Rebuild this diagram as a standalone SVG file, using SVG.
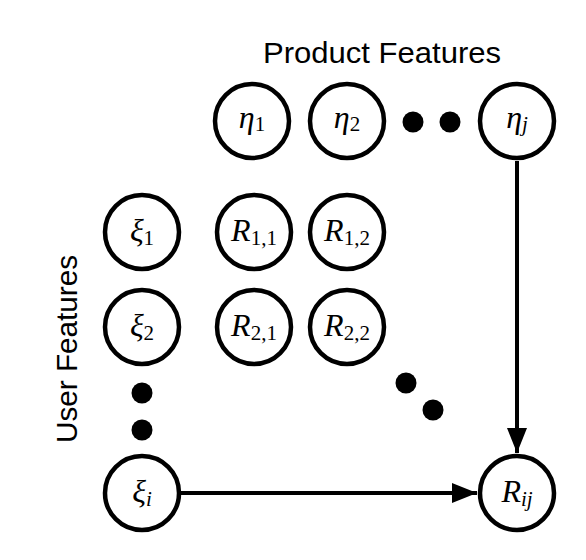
<svg xmlns="http://www.w3.org/2000/svg" width="586" height="560" viewBox="0 0 586 560">
<style>
.node circle{fill:#fff;stroke:#000;stroke-width:4.5}
.m{font-family:"Liberation Serif","Times New Roman",serif;font-size:32px;fill:#000}
.i{font-style:italic}
.s{font-size:21px;font-style:normal}
.si{font-size:21px;font-style:italic}
.lbl{font-family:"Liberation Sans",Arial,sans-serif;font-size:29px;fill:#000}
.dot{fill:#000}
.edge{stroke:#000;stroke-width:4;fill:none}
</style>
<defs>
<marker id="ah" markerUnits="userSpaceOnUse" markerWidth="26" markerHeight="22" refX="25" refY="10" orient="auto">
<path d="M0,0 L25,10 L0,20 Z" fill="#000"/>
</marker>
</defs>
<rect width="586" height="560" fill="#fff"/>
<text class="lbl" x="382" y="63" text-anchor="middle" textLength="238" lengthAdjust="spacingAndGlyphs">Product Features</text>
<text class="lbl" transform="translate(77,349) rotate(-90)" x="0" y="0" text-anchor="middle" textLength="188" lengthAdjust="spacingAndGlyphs">User Features</text>
<g id="connectors">
<line class="edge" x1="181" y1="493" x2="477" y2="493" marker-end="url(#ah)"/>
<line class="edge" x1="517" y1="161" x2="517" y2="453" marker-end="url(#ah)"/>
</g>
<g id="eta1" class="node"><circle cx="252" cy="121" r="37"/><text class="m" x="252" y="128" text-anchor="middle"><tspan class="i">η</tspan><tspan class="s" dy="3">1</tspan></text></g>
<g id="eta2" class="node"><circle cx="347" cy="121" r="37"/><text class="m" x="347" y="128" text-anchor="middle"><tspan class="i">η</tspan><tspan class="s" dy="3">2</tspan></text></g>
<g id="etaj" class="node"><circle cx="517" cy="121" r="37"/><text class="m" x="517" y="128" text-anchor="middle"><tspan class="i">η</tspan><tspan class="si" dy="3">j</tspan></text></g>
<g id="xi1" class="node"><circle cx="142" cy="232" r="37"/><text class="m" x="142" y="241" text-anchor="middle"><tspan class="i">ξ</tspan><tspan class="s" dy="4">1</tspan></text></g>
<g id="xi2" class="node"><circle cx="142" cy="327" r="37"/><text class="m" x="142" y="336" text-anchor="middle"><tspan class="i">ξ</tspan><tspan class="s" dy="4">2</tspan></text></g>
<g id="xii" class="node"><circle cx="142" cy="493" r="37"/><text class="m" x="142" y="502" text-anchor="middle"><tspan class="i">ξ</tspan><tspan class="si" dy="4">i</tspan></text></g>
<g id="R11" class="node"><circle cx="254" cy="232" r="37"/><text class="m" x="254" y="241" text-anchor="middle"><tspan class="i">R</tspan><tspan class="s" dy="4">1,1</tspan></text></g>
<g id="R12" class="node"><circle cx="347" cy="232" r="37"/><text class="m" x="347" y="241" text-anchor="middle"><tspan class="i">R</tspan><tspan class="s" dy="4">1,2</tspan></text></g>
<g id="R21" class="node"><circle cx="254" cy="327" r="37"/><text class="m" x="254" y="336" text-anchor="middle"><tspan class="i">R</tspan><tspan class="s" dy="4">2,1</tspan></text></g>
<g id="R22" class="node"><circle cx="347" cy="327" r="37"/><text class="m" x="347" y="336" text-anchor="middle"><tspan class="i">R</tspan><tspan class="s" dy="4">2,2</tspan></text></g>
<g id="Rij" class="node"><circle cx="517" cy="493" r="37"/><text class="m" x="517" y="502" text-anchor="middle"><tspan class="i">R</tspan><tspan class="si" dy="4">ij</tspan></text></g>
<g id="dots">
<circle class="dot" cx="413" cy="122" r="10.5"/>
<circle class="dot" cx="450" cy="122" r="10.5"/>
<circle class="dot" cx="142" cy="393" r="10.5"/>
<circle class="dot" cx="142" cy="430" r="10.5"/>
<circle class="dot" cx="406" cy="383" r="10.5"/>
<circle class="dot" cx="433" cy="410" r="10.5"/>
</g>
</svg>
